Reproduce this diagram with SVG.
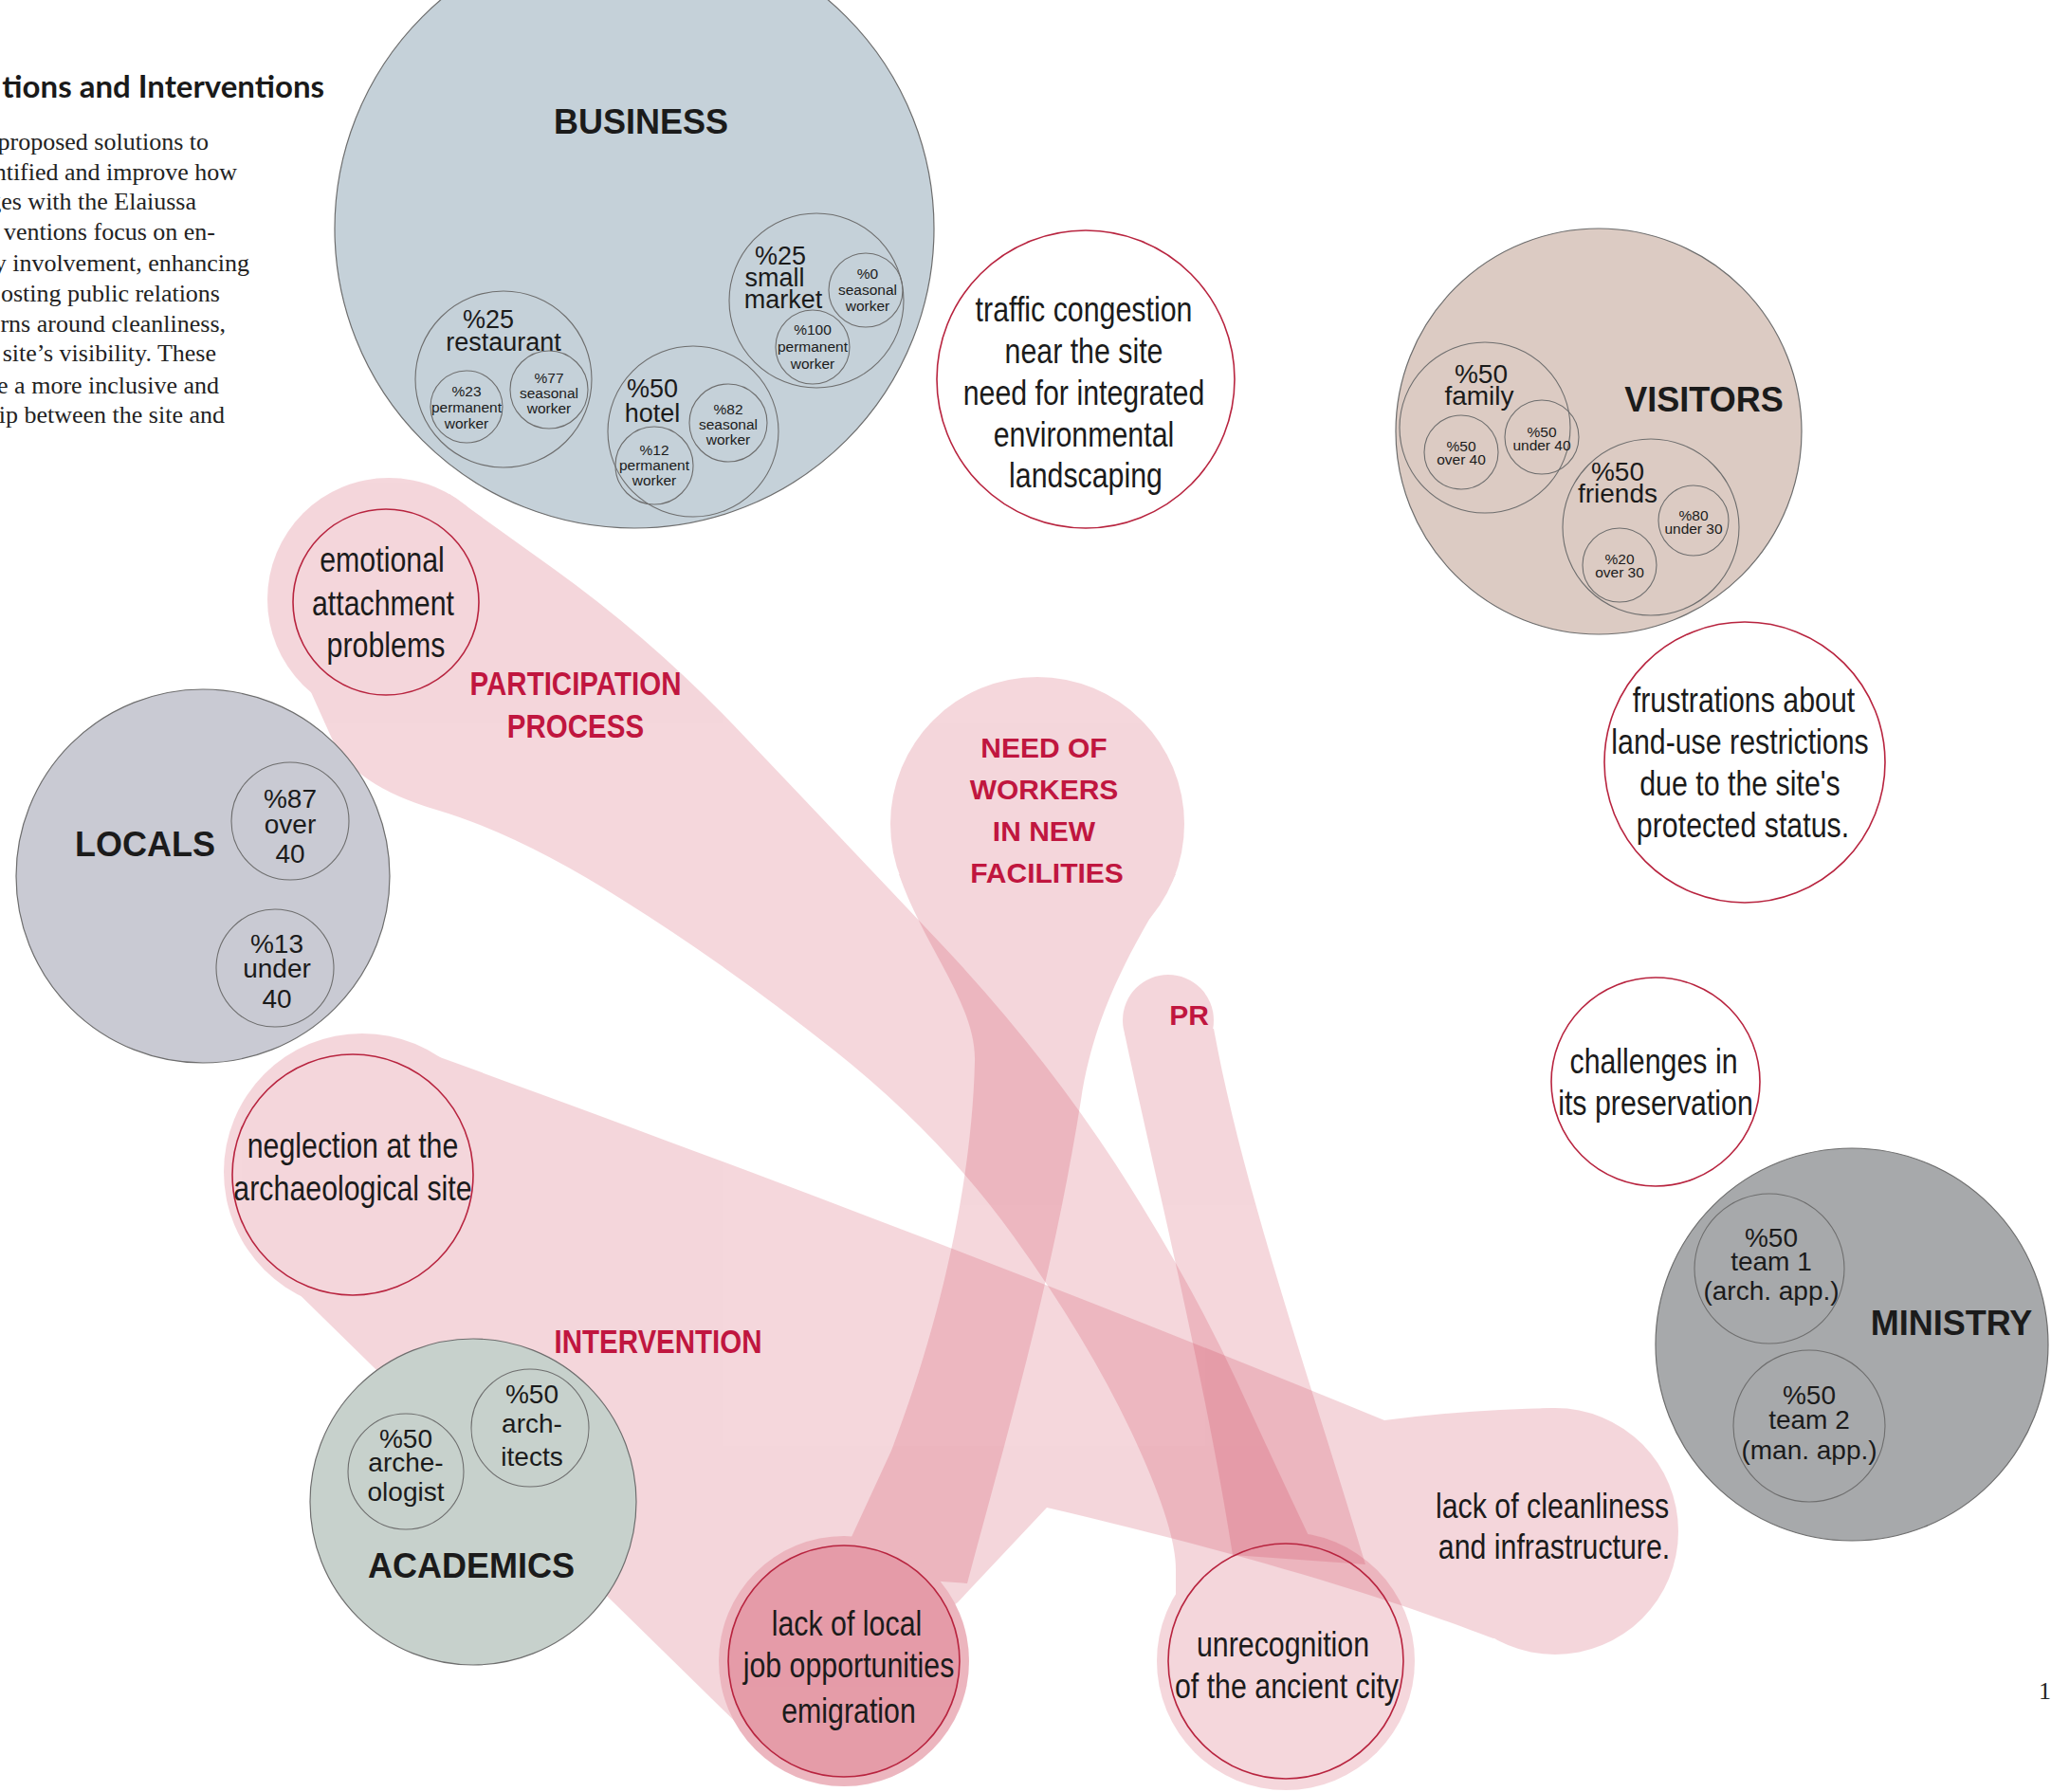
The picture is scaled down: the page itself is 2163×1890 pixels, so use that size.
<svg xmlns="http://www.w3.org/2000/svg" width="2163" height="1890" viewBox="0 0 2163 1890">
<defs>
<style>
.band{fill:#cd3750;opacity:0.2}
.sh{stroke:#6e6e6e;stroke-width:1.2}
.sub{fill:none;stroke:#6e6e6e;stroke-width:1.1}
.prob{stroke:#b8243f;stroke-width:1.6}
.hd{font-family:'Liberation Sans',Arial,sans-serif;font-weight:bold;font-size:36px;fill:#1b1b1b;text-anchor:middle}
.pc{font-family:'Liberation Sans',Arial,sans-serif;font-size:27px;fill:#1b1b1b;text-anchor:middle}
.pl{font-family:'Liberation Sans',Arial,sans-serif;font-size:28px;fill:#1b1b1b;text-anchor:middle}
.sm{font-family:'Liberation Sans',Arial,sans-serif;font-size:15.5px;fill:#1b1b1b;text-anchor:middle}
.nr{font-family:'Liberation Sans',Arial,sans-serif;font-size:37px;fill:#1b1b1b;text-anchor:middle}
.rl{font-family:'Liberation Sans',Arial,sans-serif;font-weight:bold;font-size:36px;fill:#c0163f;text-anchor:middle}
.rb{font-family:'Liberation Sans',Arial,sans-serif;font-weight:bold;font-size:30px;fill:#c0163f;text-anchor:middle}
.body{font-family:'Liberation Serif','Times New Roman',serif;font-size:26px;fill:#222;text-anchor:end}
.ttl{font-family:Lato,'Liberation Sans',sans-serif;font-weight:bold;font-size:33px;fill:#1a1a1a;text-anchor:end}
</style>
</defs>
<rect width="2163" height="1890" fill="#ffffff"/>

<g id="intro">
<text class="ttl" x="342" y="103">tions and Interventions</text>
<text class="body" x="220" y="158">proposed solutions to</text>
<text class="body" x="250" y="190">ntified and improve how</text>
<text class="body" x="207" y="221">ges with the Elaiussa</text>
<text class="body" x="227" y="253">ventions focus on en-</text>
<text class="body" x="263" y="286">y involvement, enhancing</text>
<text class="body" x="232" y="318">osting public relations</text>
<text class="body" x="238" y="350">rns around cleanliness,</text>
<text class="body" x="228" y="381">e site’s visibility. These</text>
<text class="body" x="231" y="415">e a more inclusive and</text>
<text class="body" x="237" y="446">ip between the site and</text>
</g>

<g id="connectors">
<g id="band-participation" class="band">
<circle cx="410" cy="632" r="128"/>
<path d="M474,521 L584,600 Q694,679 790,782 Q887,884 992,995 Q1097,1106 1176,1227 Q1254,1348 1304,1456 Q1353,1563 1386,1632 L1420,1700 L1240,1700 L1240,1655 Q1240,1610 1193,1510 Q1146,1411 1069,1304 Q992,1197 880,1108 Q768,1019 658,950 Q548,880 460,854 Q372,828 350,779 L328,730 Z"/>
<circle cx="1356" cy="1752" r="136"/>
</g>
<g id="band-need" class="band">
<circle cx="1094" cy="869" r="155"/>
<path d="M948,922 C975,1000 1030,1060 1028,1120 C1025,1250 990,1400 940,1530 L880,1660 L1020,1670 C1060,1520 1110,1350 1140,1160 C1155,1060 1200,990 1240,922 Z"/>
<circle cx="890" cy="1752" r="132"/>
</g>
<g id="band-intervention" class="band">
<circle cx="382" cy="1236" r="146"/>
<path d="M400,1092 C700,1200 1100,1350 1460,1498 C1520,1490 1580,1486 1640,1485 L1640,1700 L1575,1728 C1500,1700 1380,1655 1104,1590 L1010,1690 L800,1840 L290,1340 Z"/>
<circle cx="1640" cy="1615" r="130"/>
<circle cx="890" cy="1752" r="132"/>
</g>
<g id="band-pr" class="band">
<circle cx="1232" cy="1076" r="48"/>
<path d="M1186,1090 C1220,1250 1270,1450 1300,1640 L1440,1650 C1380,1450 1310,1250 1280,1085 Z"/>
</g>
</g>

<g id="business">
<circle class="sh" cx="669" cy="241" r="316" fill="#c5d1d9"/>
<text class="hd" x="676" y="141">BUSINESS</text>
<circle class="sub" cx="531" cy="400" r="93"/>
<text class="pc" x="515" y="346">%25</text>
<text class="pc" x="531" y="370">restaurant</text>
<circle class="sub" cx="492" cy="429" r="38"/>
<text class="sm" x="492" y="418">%23</text>
<text class="sm" x="492" y="435">permanent</text>
<text class="sm" x="492" y="452">worker</text>
<circle class="sub" cx="579" cy="411" r="41"/>
<text class="sm" x="579" y="404">%77</text>
<text class="sm" x="579" y="420">seasonal</text>
<text class="sm" x="579" y="436">worker</text>
<circle class="sub" cx="731" cy="455" r="90"/>
<text class="pc" x="688" y="419">%50</text>
<text class="pc" x="688" y="445">hotel</text>
<circle class="sub" cx="690" cy="491" r="41"/>
<text class="sm" x="690" y="480">%12</text>
<text class="sm" x="690" y="496">permanent</text>
<text class="sm" x="690" y="512">worker</text>
<circle class="sub" cx="768" cy="446" r="41"/>
<text class="sm" x="768" y="437">%82</text>
<text class="sm" x="768" y="453">seasonal</text>
<text class="sm" x="768" y="469">worker</text>
<circle class="sub" cx="861" cy="317" r="92"/>
<text class="pc" x="823" y="279">%25</text>
<text class="pc" x="817" y="302">small</text>
<text class="pc" x="826" y="325">market</text>
<circle class="sub" cx="913" cy="306" r="39"/>
<text class="sm" x="915" y="294">%0</text>
<text class="sm" x="915" y="311">seasonal</text>
<text class="sm" x="915" y="328">worker</text>
<circle class="sub" cx="857" cy="366" r="39"/>
<text class="sm" x="857" y="353">%100</text>
<text class="sm" x="857" y="371">permanent</text>
<text class="sm" x="857" y="389">worker</text>
</g>

<g id="visitors">
<circle class="sh" cx="1686" cy="455" r="214" fill="#dccbc3"/>
<text class="hd" x="1797" y="434">VISITORS</text>
<circle class="sub" cx="1566" cy="451" r="90"/>
<text class="pl" x="1562" y="404">%50</text>
<text class="pl" x="1560" y="427">family</text>
<circle class="sub" cx="1541" cy="477" r="39"/>
<text class="sm" x="1541" y="476">%50</text>
<text class="sm" x="1541" y="490">over 40</text>
<circle class="sub" cx="1626" cy="461" r="39"/>
<text class="sm" x="1626" y="461">%50</text>
<text class="sm" x="1626" y="475">under 40</text>
<circle class="sub" cx="1741" cy="556" r="93"/>
<text class="pl" x="1706" y="507">%50</text>
<text class="pl" x="1706" y="530">friends</text>
<circle class="sub" cx="1786" cy="549" r="37"/>
<text class="sm" x="1786" y="549">%80</text>
<text class="sm" x="1786" y="563">under 30</text>
<circle class="sub" cx="1708" cy="596" r="39"/>
<text class="sm" x="1708" y="595">%20</text>
<text class="sm" x="1708" y="609">over 30</text>
</g>

<g id="locals">
<circle class="sh" cx="214" cy="924" r="197" fill="#c9cad3"/>
<text class="hd" x="153" y="903">LOCALS</text>
<circle class="sub" cx="306" cy="866" r="62"/>
<text class="pl" x="306" y="852">%87</text>
<text class="pl" x="306" y="879">over</text>
<text class="pl" x="306" y="910">40</text>
<circle class="sub" cx="290" cy="1021" r="62"/>
<text class="pl" x="292" y="1005">%13</text>
<text class="pl" x="292" y="1031">under</text>
<text class="pl" x="292" y="1063">40</text>
</g>

<g id="academics">
<circle class="sh" cx="499" cy="1584" r="172" fill="#c7d1cc"/>
<text class="hd" x="497" y="1664">ACADEMICS</text>
<circle class="sub" cx="428" cy="1552" r="61"/>
<text class="pl" x="428" y="1527">%50</text>
<text class="pl" x="428" y="1552">arche-</text>
<text class="pl" x="428" y="1583">ologist</text>
<circle class="sub" cx="559" cy="1506" r="62"/>
<text class="pl" x="561" y="1480">%50</text>
<text class="pl" x="561" y="1511">arch-</text>
<text class="pl" x="561" y="1546">itects</text>
</g>

<g id="ministry">
<circle class="sh" cx="1953" cy="1418" r="207" fill="#a7a9ab"/>
<text class="hd" x="2058" y="1408">MINISTRY</text>
<circle class="sub" cx="1866" cy="1338" r="79"/>
<text class="pl" x="1868" y="1315">%50</text>
<text class="pl" x="1868" y="1340">team 1</text>
<text class="pl" x="1868" y="1371">(arch. app.)</text>
<circle class="sub" cx="1908" cy="1504" r="80"/>
<text class="pl" x="1908" y="1481">%50</text>
<text class="pl" x="1908" y="1507">team 2</text>
<text class="pl" x="1908" y="1539">(man. app.)</text>
</g>

<g id="traffic">
<circle class="prob" cx="1145" cy="400" r="157" fill="#ffffff"/>
<text class="nr" transform="translate(1143,339) scale(0.82,1)">traffic congestion</text>
<text class="nr" transform="translate(1143,383) scale(0.82,1)">near the site</text>
<text class="nr" transform="translate(1143,427) scale(0.82,1)">need for integrated</text>
<text class="nr" transform="translate(1143,471) scale(0.82,1)">environmental</text>
<text class="nr" transform="translate(1145,514) scale(0.82,1)">landscaping</text>
</g>

<g id="frustrations">
<circle class="prob" cx="1840" cy="804" r="148" fill="#ffffff"/>
<text class="nr" transform="translate(1839,751) scale(0.82,1)">frustrations about</text>
<text class="nr" transform="translate(1835,795) scale(0.82,1)">land-use restrictions</text>
<text class="nr" transform="translate(1835,839) scale(0.82,1)">due to the site's</text>
<text class="nr" transform="translate(1838,883) scale(0.82,1)">protected status.</text>
</g>

<g id="challenges">
<circle class="prob" cx="1746" cy="1141" r="110" fill="#ffffff"/>
<text class="nr" transform="translate(1744,1132) scale(0.82,1)">challenges in</text>
<text class="nr" transform="translate(1746,1176) scale(0.82,1)">its preservation</text>
</g>

<g id="emotional">
<circle class="prob" cx="407" cy="635" r="98" fill="none"/>
<text class="nr" transform="translate(403,603) scale(0.82,1)">emotional</text>
<text class="nr" transform="translate(404,649) scale(0.82,1)">attachment</text>
<text class="nr" transform="translate(407,693) scale(0.82,1)">problems</text>
</g>

<g id="neglection">
<circle class="prob" cx="372" cy="1239" r="127" fill="none"/>
<text class="nr" transform="translate(372,1221) scale(0.82,1)">neglection at the</text>
<text class="nr" transform="translate(372,1266) scale(0.82,1)">archaeological site</text>
</g>

<g id="lack-local">
<circle class="prob" cx="890" cy="1752" r="122" fill="#cd3750" fill-opacity="0.2"/>
<text class="nr" transform="translate(893,1725) scale(0.82,1)">lack of local</text>
<text class="nr" transform="translate(895,1769) scale(0.82,1)">job opportunities</text>
<text class="nr" transform="translate(895,1817) scale(0.82,1)">emigration</text>
</g>

<g id="unrecognition">
<circle class="prob" cx="1356" cy="1752" r="124" fill="none"/>
<text class="nr" transform="translate(1353,1747) scale(0.82,1)">unrecognition</text>
<text class="nr" transform="translate(1357,1791) scale(0.82,1)">of the ancient city</text>
</g>

<g id="cleanliness">
<text class="nr" transform="translate(1637,1601) scale(0.82,1)">lack of cleanliness</text>
<text class="nr" transform="translate(1639,1644) scale(0.82,1)">and infrastructure.</text>
</g>

<g id="labels">
<text class="rl" font-size="35" transform="translate(607,733) scale(0.82,1)">PARTICIPATION</text>
<text class="rl" font-size="35" transform="translate(607,778) scale(0.82,1)">PROCESS</text>
<text class="rb" x="1101" y="799">NEED OF</text>
<text class="rb" x="1101" y="843">WORKERS</text>
<text class="rb" x="1101" y="887">IN NEW</text>
<text class="rb" x="1104" y="931">FACILITIES</text>
<text class="rb" x="1254" y="1081">PR</text>
<text class="rl" font-size="37" transform="translate(694,1427) scale(0.82,1)">INTERVENTION</text>
</g>

<text class="body" x="2163" y="1792">1</text>
</svg>
